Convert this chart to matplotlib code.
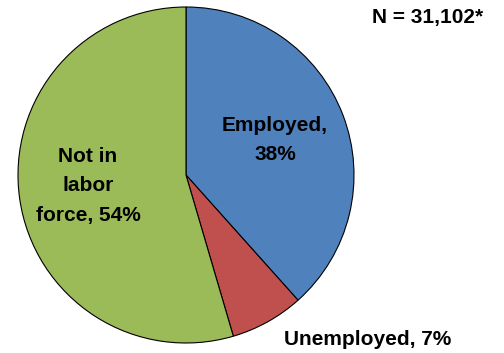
import matplotlib.pyplot as plt

categories = ["Employed", "Unemployed", "Not in labor force"]
shares = [38, 7, 54]
labels = ["Employed,\n38%", "Unemployed, 7%", "Not in\nlabor\nforce, 54%"]
colors = ["#4F81BD", "#C0504D", "#9BBB59"]
total_n = "N = 31,102*"

fig = plt.figure(figsize=(5.04, 3.53), dpi=100)
ax = fig.add_axes([18 / 504, 10 / 353, 336 / 504, 336 / 353])

ax.pie(shares, colors=colors, startangle=90, counterclock=False,
       wedgeprops=dict(edgecolor="black", linewidth=0.8))
ax.set_xlim(-1, 1)
ax.set_ylim(-1, 1)
ax.set_aspect("equal")

font = dict(family="Liberation Sans", weight="bold", fontsize=15)
ax.text(0.530, 0.208, labels[0], ha="center", va="center", linespacing=1.7, **font)
ax.text(-0.583, -0.065, labels[2], ha="center", va="center", linespacing=1.7, **font)
ax.text(1.080, -0.982, labels[1], ha="center", va="center", clip_on=False, **font)
ax.text(1.440, 0.935, total_n, ha="center", va="center", clip_on=False, **font)

fig.savefig("out.png", dpi=100)
